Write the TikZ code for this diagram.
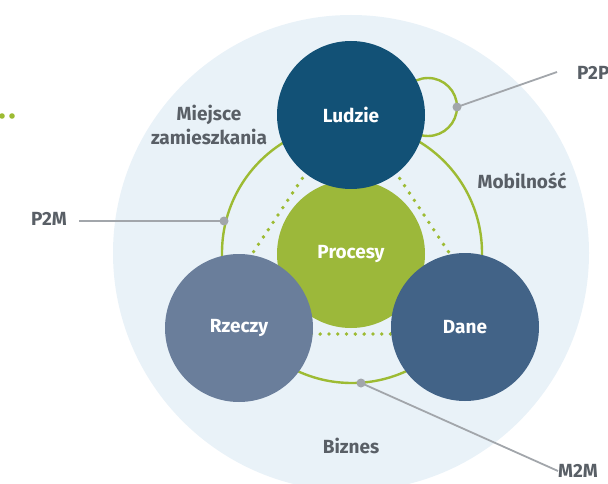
\documentclass[tikz,border=0pt]{standalone}
\usepackage{fontspec}
\setmainfont{Fira Sans}
\definecolor{bgc}{HTML}{E9F2F8}
\definecolor{ludc}{HTML}{125176}
\definecolor{proc}{HTML}{9CB83A}
\definecolor{rzc}{HTML}{6A7E9B}
\definecolor{danc}{HTML}{426387}
\definecolor{ringc}{HTML}{9DBB33}
\definecolor{grayl}{HTML}{A2A6AB}
\definecolor{txtc}{HTML}{595F66}
\tikzset{
  bubble/.style={circle, minimum size=148pt, inner sep=0pt, text=white, font=\fontsize{19}{22}\selectfont\bfseries},
  lbl/.style={text=txtc, font=\fontsize{19}{24}\selectfont\bfseries, align=center, inner sep=0pt},
  ringline/.style={draw=ringc, line width=2.4pt},
  leader/.style={draw=grayl, line width=1.8pt},
  pin/.style={circle, fill=grayl, minimum size=9pt, inner sep=0pt},
  dots/.style={draw=ringc, line width=3.8pt, line cap=round, dash pattern=on 0pt off 8.8pt},
}
\begin{document}
\begin{tikzpicture}[x=1pt,y=-1pt]
\useasboundingbox (0,0) rectangle (608,484);
\clip (0,0) rectangle (608,484);
% background disc
\fill[bgc] (351,253) circle[radius=238];
% left decorative dots
\fill[ringc] (2,116) circle[radius=2.8];
\fill[ringc] (12,116) circle[radius=2.8];
% rings
\draw[ringline] (352,253) circle[radius=130];
\draw[ringline] (428,107) circle[radius=29];
% dotted triangle
\coordinate (ta) at (351,105);
\coordinate (tl) at (199,334);
\coordinate (tr) at (503,334);
\draw[dots] (ta) -- (tl) -- (tr) -- cycle;
% main bubbles
\node[bubble, fill=proc] (pro) at (351,254) {Procesy};
\node[bubble, fill=ludc] (lud) at (351,115) {Ludzie};
\node[bubble, fill=rzc] (rze) at (239,328) {Rzeczy};
\node[bubble, fill=danc] (dan) at (465,327) {Dane};
% labels
\node[lbl] (miej) at (209,125) {Miejsce\\zamieszkania};
\node[lbl] (mob) at (522,181) {Mobilność};
\node[lbl] (biz) at (351,446) {Biznes};
\node[lbl, anchor=east] (p2m) at (67,219) {P2M};
\node[lbl, anchor=west] (p2p) at (577,73) {P2P};
\node[lbl, anchor=west] (m2m) at (558,471) {M2M};
% pins
\node[pin] (d1) at (224,221) {};
\node[pin] (d2) at (457,107) {};
\node[pin] (d3) at (361,383) {};
% leader ends
\coordinate (p2mend) at (79,221);
\coordinate (p2pend) at (557,72);
% leaders
\draw[leader] (p2mend) -- (d1.center);
\draw[leader] (d2.center) -- (p2pend);
\draw[leader] (d3.center) -- (m2m.west);
\end{tikzpicture}
\end{document}
